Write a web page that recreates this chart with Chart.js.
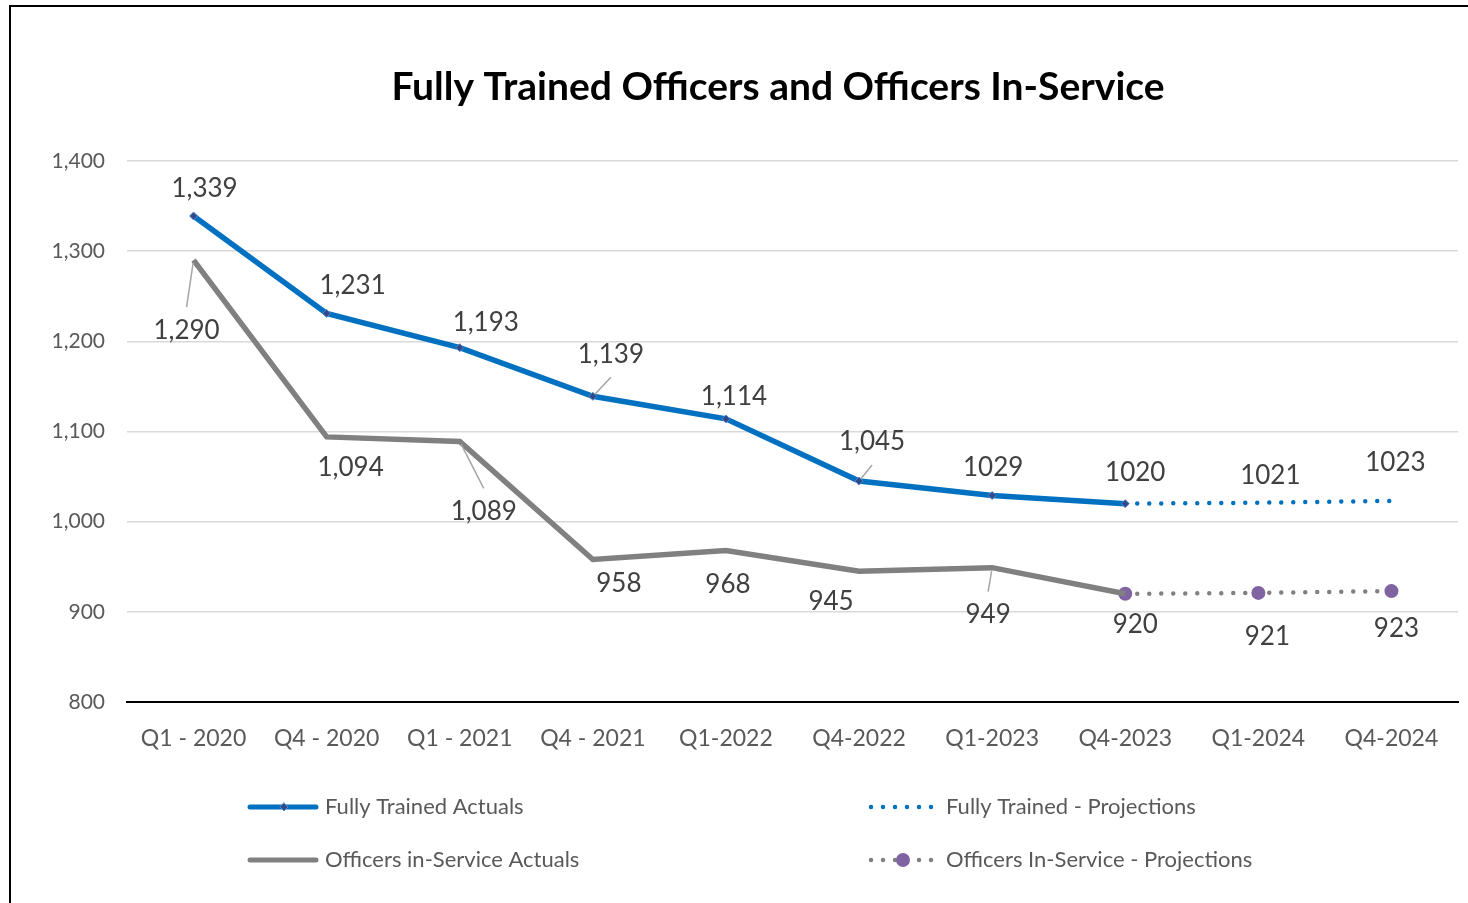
<!DOCTYPE html>
<html><head><meta charset="utf-8">
<script src="https://cdn.jsdelivr.net/npm/chart.js@4"></script>
<style>html,body{margin:0;padding:0;background:#fff;overflow:hidden}#wrap{width:1468px;height:903px;position:relative}canvas{display:block}</style>
</head><body><div id="wrap"><canvas id="c" width="1468" height="903" style="width:1468px;height:903px"></canvas></div>
<script>
// ---- data ----
const chartTitle = 'Fully Trained Officers and Officers In-Service';
const categories = ['Q1 - 2020','Q4 - 2020','Q1 - 2021','Q4 - 2021','Q1-2022','Q4-2022','Q1-2023','Q4-2023','Q1-2024','Q4-2024'];
const trainedActuals = [1339,1231,1193,1139,1114,1045,1029,1020,null,null];
const inServiceActuals = [1290,1094,1089,958,968,945,949,920,null,null];
const trainedProjections = [null,null,null,null,null,null,null,1020,1021,1023];
const inServiceProjections = [null,null,null,null,null,null,null,920,921,923];
const yTicks = [800,900,1000,1100,1200,1300,1400];
const seriesNames = ['Fully Trained Actuals','Officers in-Service Actuals','Fully Trained - Projections','Officers In-Service - Projections'];

// ---- label placement (style) ----
const commaUntil = 6; // labels before this index use thousands separators
const trainedLabelPos = [[11,-27,0],[26,-28,0],[26,-25,0],[18,-42,1],[8,-22,0],[13,-39,1],[1,-28,0],[10,-31,0],[12,-27,0],[4,-38,0]];
const inServiceLabelPos = [[-7,70,1],[24,31,0],[24,70,1],[26,24,0],[2,34,0],[-28,30,0],[-4,47,1],[10,31,0],[9,44,0],[5,38,0]];

const BLUE = '#0070C0', GRAY = '#808080', PURPLE = '#8064A2', TXT = '#404040', AX = '#595959';
const FONT = 'Lato, "Open Sans", sans-serif';

function fmt(v, i){ return i < commaUntil ? v.toLocaleString('en-US') : String(v); }

const overlay = {
  id: 'overlay',
  afterDatasetsDraw(chart){
    const ctx = chart.ctx;
    const groups = [
      {act:0, proj:2, pos:trainedLabelPos},
      {act:1, proj:3, pos:inServiceLabelPos}
    ];
    ctx.save();
    ctx.font = '26px ' + FONT;
    ctx.fillStyle = TXT;
    ctx.textAlign = 'center';
    ctx.textBaseline = 'middle';
    groups.forEach(g => {
      const aMeta = chart.getDatasetMeta(g.act), pMeta = chart.getDatasetMeta(g.proj);
      const aData = chart.data.datasets[g.act].data, pData = chart.data.datasets[g.proj].data;
      categories.forEach((c, i) => {
        let v = aData[i], el = aMeta.data[i];
        if (v == null) { v = pData[i]; el = pMeta.data[i]; }
        if (v == null || !el) return;
        const [dx, dy, leader] = g.pos[i];
        const lx = el.x + dx, ly = el.y + dy;
        if (leader) {
          const dir = dy > 0 ? 1 : -1;
          const ex = lx, ey = ly - dir * 23;
          const len = Math.hypot(ex - el.x, ey - el.y);
          const sx = el.x + (ex - el.x) / len * 3, sy = el.y + (ey - el.y) / len * 3;
          ctx.strokeStyle = '#A6A6A6'; ctx.lineWidth = 1.5;
          ctx.beginPath(); ctx.moveTo(sx, sy); ctx.lineTo(ex, ey); ctx.stroke();
        }
        ctx.fillText(fmt(v, i), lx, ly);
      });
    });
    ctx.restore();
  },
  afterDraw(chart){
    const ctx = chart.ctx;
    ctx.save();
    // outer frame
    ctx.strokeStyle = '#000'; ctx.lineWidth = 2;
    ctx.beginPath(); ctx.moveTo(10, 903); ctx.lineTo(10, 6); ctx.lineTo(1468, 6); ctx.stroke();
    // title
    ctx.fillStyle = '#000'; ctx.font = 'bold 39px ' + FONT;
    ctx.textAlign = 'center'; ctx.textBaseline = 'middle';
    ctx.fillText(chartTitle, 778, 87);
    // legend
    ctx.font = '22px ' + FONT; ctx.textAlign = 'left'; ctx.fillStyle = AX;
    const rows = [807, 860];
    // item 1
    ctx.lineCap = 'round'; ctx.lineWidth = 5; ctx.strokeStyle = BLUE;
    ctx.beginPath(); ctx.moveTo(250, rows[0]); ctx.lineTo(316, rows[0]); ctx.stroke();
    ctx.fillStyle = '#2E4A8B'; ctx.strokeStyle = '#5B87C8'; ctx.lineWidth = 1;
    ctx.beginPath(); ctx.moveTo(284, rows[0]-4); ctx.lineTo(288, rows[0]); ctx.lineTo(284, rows[0]+4); ctx.lineTo(280, rows[0]); ctx.closePath(); ctx.fill(); ctx.stroke();
    ctx.fillStyle = AX; ctx.fillText(seriesNames[0], 325, rows[0]);
    // item 2
    ctx.lineWidth = 5; ctx.strokeStyle = GRAY;
    ctx.beginPath(); ctx.moveTo(250, rows[1]); ctx.lineTo(316, rows[1]); ctx.stroke();
    ctx.fillText(seriesNames[1], 325, rows[1]);
    // item 3
    ctx.setLineDash([0, 12]); ctx.lineWidth = 4.5; ctx.strokeStyle = BLUE;
    ctx.beginPath(); ctx.moveTo(871, rows[0]); ctx.lineTo(932, rows[0]); ctx.stroke();
    ctx.fillText(seriesNames[2], 946, rows[0]);
    // item 4
    ctx.strokeStyle = GRAY;
    ctx.beginPath(); ctx.moveTo(871, rows[1]); ctx.lineTo(932, rows[1]); ctx.stroke();
    ctx.setLineDash([]);
    ctx.fillStyle = PURPLE; ctx.beginPath(); ctx.arc(903, rows[1], 7, 0, Math.PI*2); ctx.fill();
    ctx.fillStyle = AX; ctx.fillText(seriesNames[3], 946, rows[1]);
    ctx.restore();
  }
};

new Chart(document.getElementById('c'), {
  type: 'line',
  data: {
    labels: categories,
    datasets: [
      { label: seriesNames[0], data: trainedActuals, borderColor: BLUE, borderWidth: 5.5, tension: 0,
        pointStyle: 'rectRot', pointRadius: 4, pointBackgroundColor: '#2E4A8B', pointBorderColor: '#5B87C8', pointBorderWidth: 1, spanGaps: false },
      { label: seriesNames[1], data: inServiceActuals, borderColor: GRAY, borderWidth: 5.5, tension: 0, pointRadius: 0 },
      { label: seriesNames[2], data: trainedProjections, borderColor: BLUE, borderWidth: 4.5, borderDash: [0, 12], borderCapStyle: 'round', tension: 0, pointRadius: 0 },
      { label: seriesNames[3], data: inServiceProjections, borderColor: GRAY, borderWidth: 4.5, borderDash: [0, 12], borderCapStyle: 'round', tension: 0,
        pointRadius: 7, pointBackgroundColor: PURPLE, pointBorderColor: PURPLE, pointBorderWidth: 0 }
    ]
  },
  options: {
    responsive: false, animation: false, events: [],
    layout: { padding: { top: 161, right: 10, left: 0, bottom: 0 } },
    plugins: { legend: { display: false }, title: { display: false }, tooltip: { enabled: false } },
    scales: {
      x: {
        offset: true,
        grid: { display: false, drawTicks: false },
        border: { display: true, color: '#000', width: 2 },
        ticks: { color: AX, font: { family: FONT, size: 23 }, padding: 23, maxRotation: 0, autoSkip: false },
        afterFit(s){ s.height = 201; }
      },
      y: {
        min: 800, max: 1400,
        afterBuildTicks(s){ s.ticks = yTicks.map(v => ({ value: v })); },
        grid: { color: c => (c.tick && c.tick.value === 800) ? 'rgba(0,0,0,0)' : '#D9D9D9', lineWidth: 1.5, drawTicks: false },
        border: { display: false },
        ticks: { color: AX, font: { family: FONT, size: 21 }, padding: 22, callback: v => v.toLocaleString('en-US') },
        afterFit(s){ s.width = 127; }
      }
    }
  },
  plugins: [overlay]
});
</script></body></html>
